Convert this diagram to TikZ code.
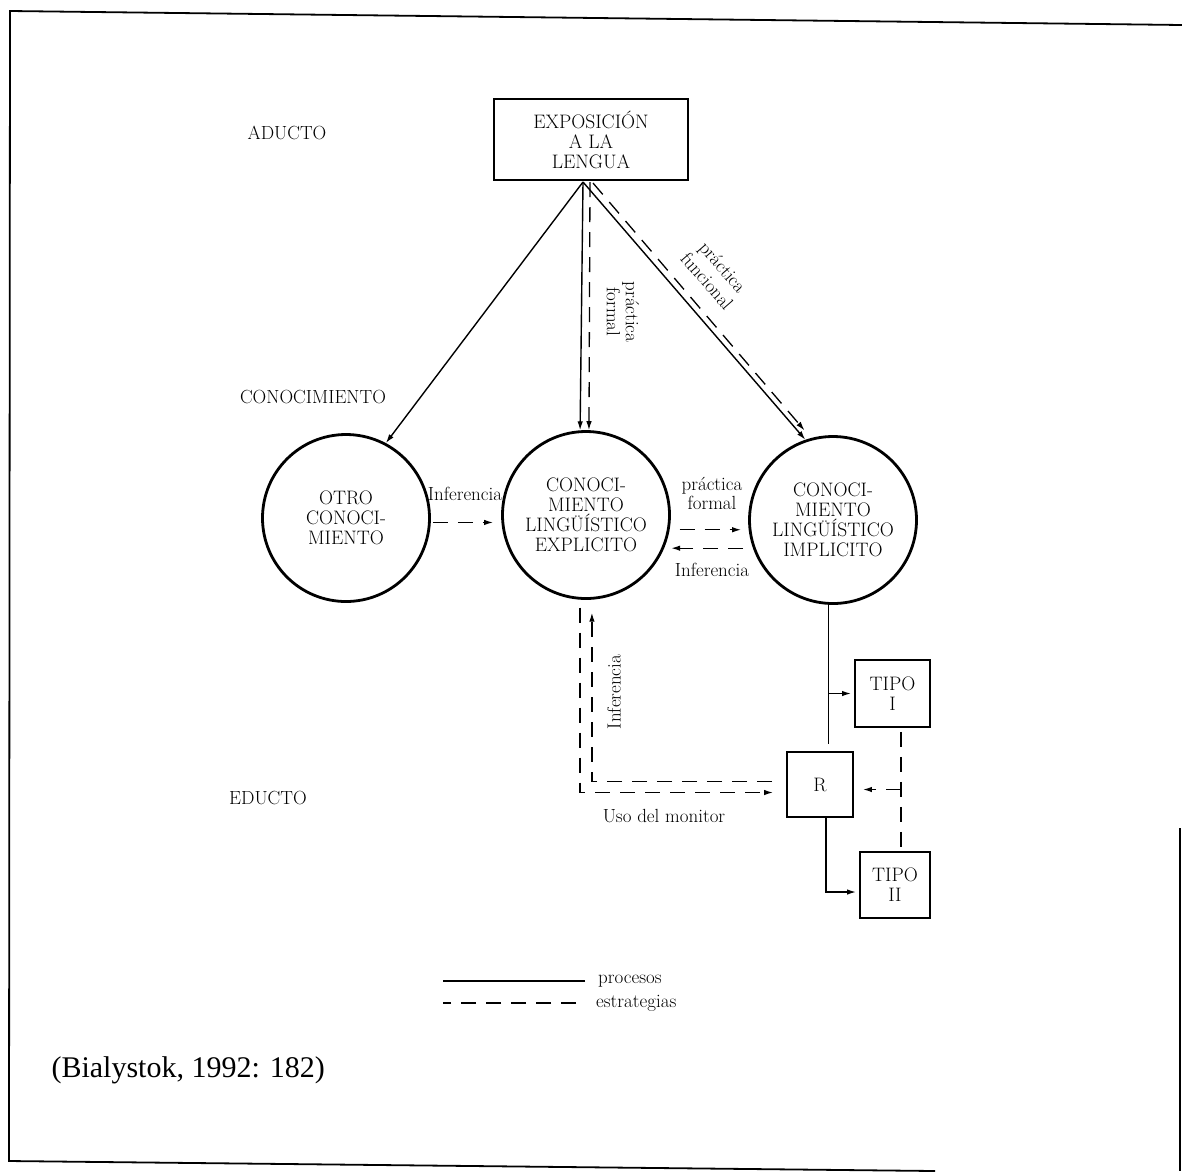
\documentclass[tikz,border=0pt]{standalone}
\usepackage{fontspec}
\usepackage{tikz}
\usetikzlibrary{arrows.meta}
\newfontfamily\fuentecita{Liberation Serif}

\begin{document}
\begin{tikzpicture}[x=1pt,y=-1pt]
% Dimensiones
\def\Diametro{167pt}
\def\Letra{\fontsize{19.5}{20}\selectfont}
\def\LetraEtiqueta{\fontsize{19}{19}\selectfont}
% Estilos
\tikzstyle{flecha}=[->,>={Latex[length=9pt,width=5.5pt]},line width=1.4pt]
\tikzstyle{proceso}=[line width=1.4pt]
\tikzstyle{estrategia}=[line width=1.3pt,dash pattern=on 15pt off 10pt]
\tikzstyle{circulo}=[circle,draw,line width=2.8pt,minimum size=\Diametro,inner sep=0pt,align=center,font=\Letra]
\tikzstyle{caja}=[rectangle,draw,line width=1.9pt,inner sep=0pt,align=center,font=\Letra]
\tikzstyle{etiqueta}=[font=\LetraEtiqueta,inner sep=1pt,align=center]
% Marco
\useasboundingbox (0,0) rectangle (1182,1171);
\draw[line width=1.8pt] (1182,25) -- (10,11) -- (9,1161) -- (935,1171);
\draw[line width=1.8pt] (1180,828) -- (1180,1171);
% Niveles
\node[etiqueta] (Aducto) at (287,133) {ADUCTO};
\node[etiqueta] (Conocimiento) at (313,397) {CONOCIMIENTO};
\node[etiqueta] (Educto) at (268,798) {EDUCTO};
% Nodos
\node[caja,minimum width=194pt,minimum height=81pt] (Expo) at (591,139.5) {EXPOSICIÓN\\A LA\\LENGUA};
\node[circulo] (Otro) at (346,518) {OTRO\\CONOCI-\\MIENTO};
\node[circulo] (Expl) at (586,515) {CONOCI-\\MIENTO\\LINGÜÍSTICO\\EXPLICITO};
\node[circulo] (Impl) at (833,520) {CONOCI-\\MIENTO\\LINGÜÍSTICO\\IMPLICITO};
\node[caja,minimum width=66pt,minimum height=65pt] (R) at (820,784.5) {R};
\node[caja,minimum width=75pt,minimum height=67pt] (Tipo1) at (892.5,693.5) {TIPO\\I};
\node[caja,minimum width=70pt,minimum height=66pt] (Tipo2) at (895,885) {TIPO\\II};
% Vertices bajo la caja
\coordinate (V1) at (583,182);
\coordinate (V2) at (590,182);
\coordinate (V3) at (593,183);
% Arcos desde el aducto
\draw[flecha] (V1) -- (Otro.62);
\draw[flecha] (V1) -- (Expl.94);
\draw[flecha,estrategia] (V2) -- (Expl.88);
\draw[flecha] (V1) -- (Impl.109);
\draw[flecha,estrategia,shorten >=10pt] (V3) -- (Impl.105);
\node[etiqueta,rotate=-90] (PracFormal) at (623,312) {práctica\\formal};
\node[etiqueta,rotate=-49,font=\fontsize{19}{21}\selectfont] (PracFuncional) at (715,274) {práctica\\funcional};
% Arcos entre conocimientos
\node[etiqueta] (InfA) at (465,494) {Inferencia};
\draw[flecha,estrategia,shorten <=2pt,shorten >=8pt] (Otro.-3) -- (Otro.-3 -| Expl.west);
\node[etiqueta] (PracFormalB) at (712,493) {práctica\\formal};
\draw[flecha,estrategia,shorten <=10pt,shorten >=7pt] (Expl.-10) -- (Expl.-10 -| Impl.west);
\draw[flecha,estrategia,shorten <=5pt,shorten >=7pt] (Impl.west |- Expl.-23) -- (Expl.-23);
\node[etiqueta] (InfB) at (712,570) {Inferencia};
% Arcos hacia el educto
\draw[flecha,estrategia,shorten <=8pt,shorten >=13pt] (Expl.-94) |- ([yshift=-8pt]R.west);
\draw[flecha,estrategia,shorten <=14pt,shorten >=13pt] ([yshift=3pt]R.west) -| (Expl.-86);
\node[etiqueta,rotate=90] (InfC) at (614,692) {Inferencia};
\node[etiqueta] (Monitor) at (664,816) {Uso del monitor};
\draw[proceso,shorten >=7pt] (Impl.-93) -- (Impl.-93 |- R.north);
\draw[flecha,shorten >=3pt] (Impl.-93 |- Tipo1.west) -- (Tipo1.west);
\draw[flecha,shorten >=3pt] ([xshift=6pt]R.south) |- ([yshift=-7pt]Tipo2.west);
\coordinate (T) at ([xshift=6pt]Tipo2.north);
\coordinate (Rder) at ([yshift=-5pt]R.east);
\draw[estrategia,shorten <=4pt,shorten >=3pt] (Tipo1.south -| T) -- (T);
\draw[flecha,estrategia,shorten >=9pt] (T |- Rder) -- (Rder);
% Leyenda
\node[etiqueta,anchor=west] (Procesos) at (597,981) {procesos};
\node[etiqueta,anchor=west] (Estrategias) at (595,1003) {estrategias};
\draw[proceso] ([xshift=-12pt]Procesos.west) -- ++(-142,0);
\draw[estrategia] ([xshift=-19pt]Estrategias.west) -- ++(-133,0);
% Cita
\node[font=\fuentecita\fontsize{30}{30}\selectfont,anchor=west] (Cita) at (48,1070) {(Bialystok, 1992: 182)};
\end{tikzpicture}
\end{document}
